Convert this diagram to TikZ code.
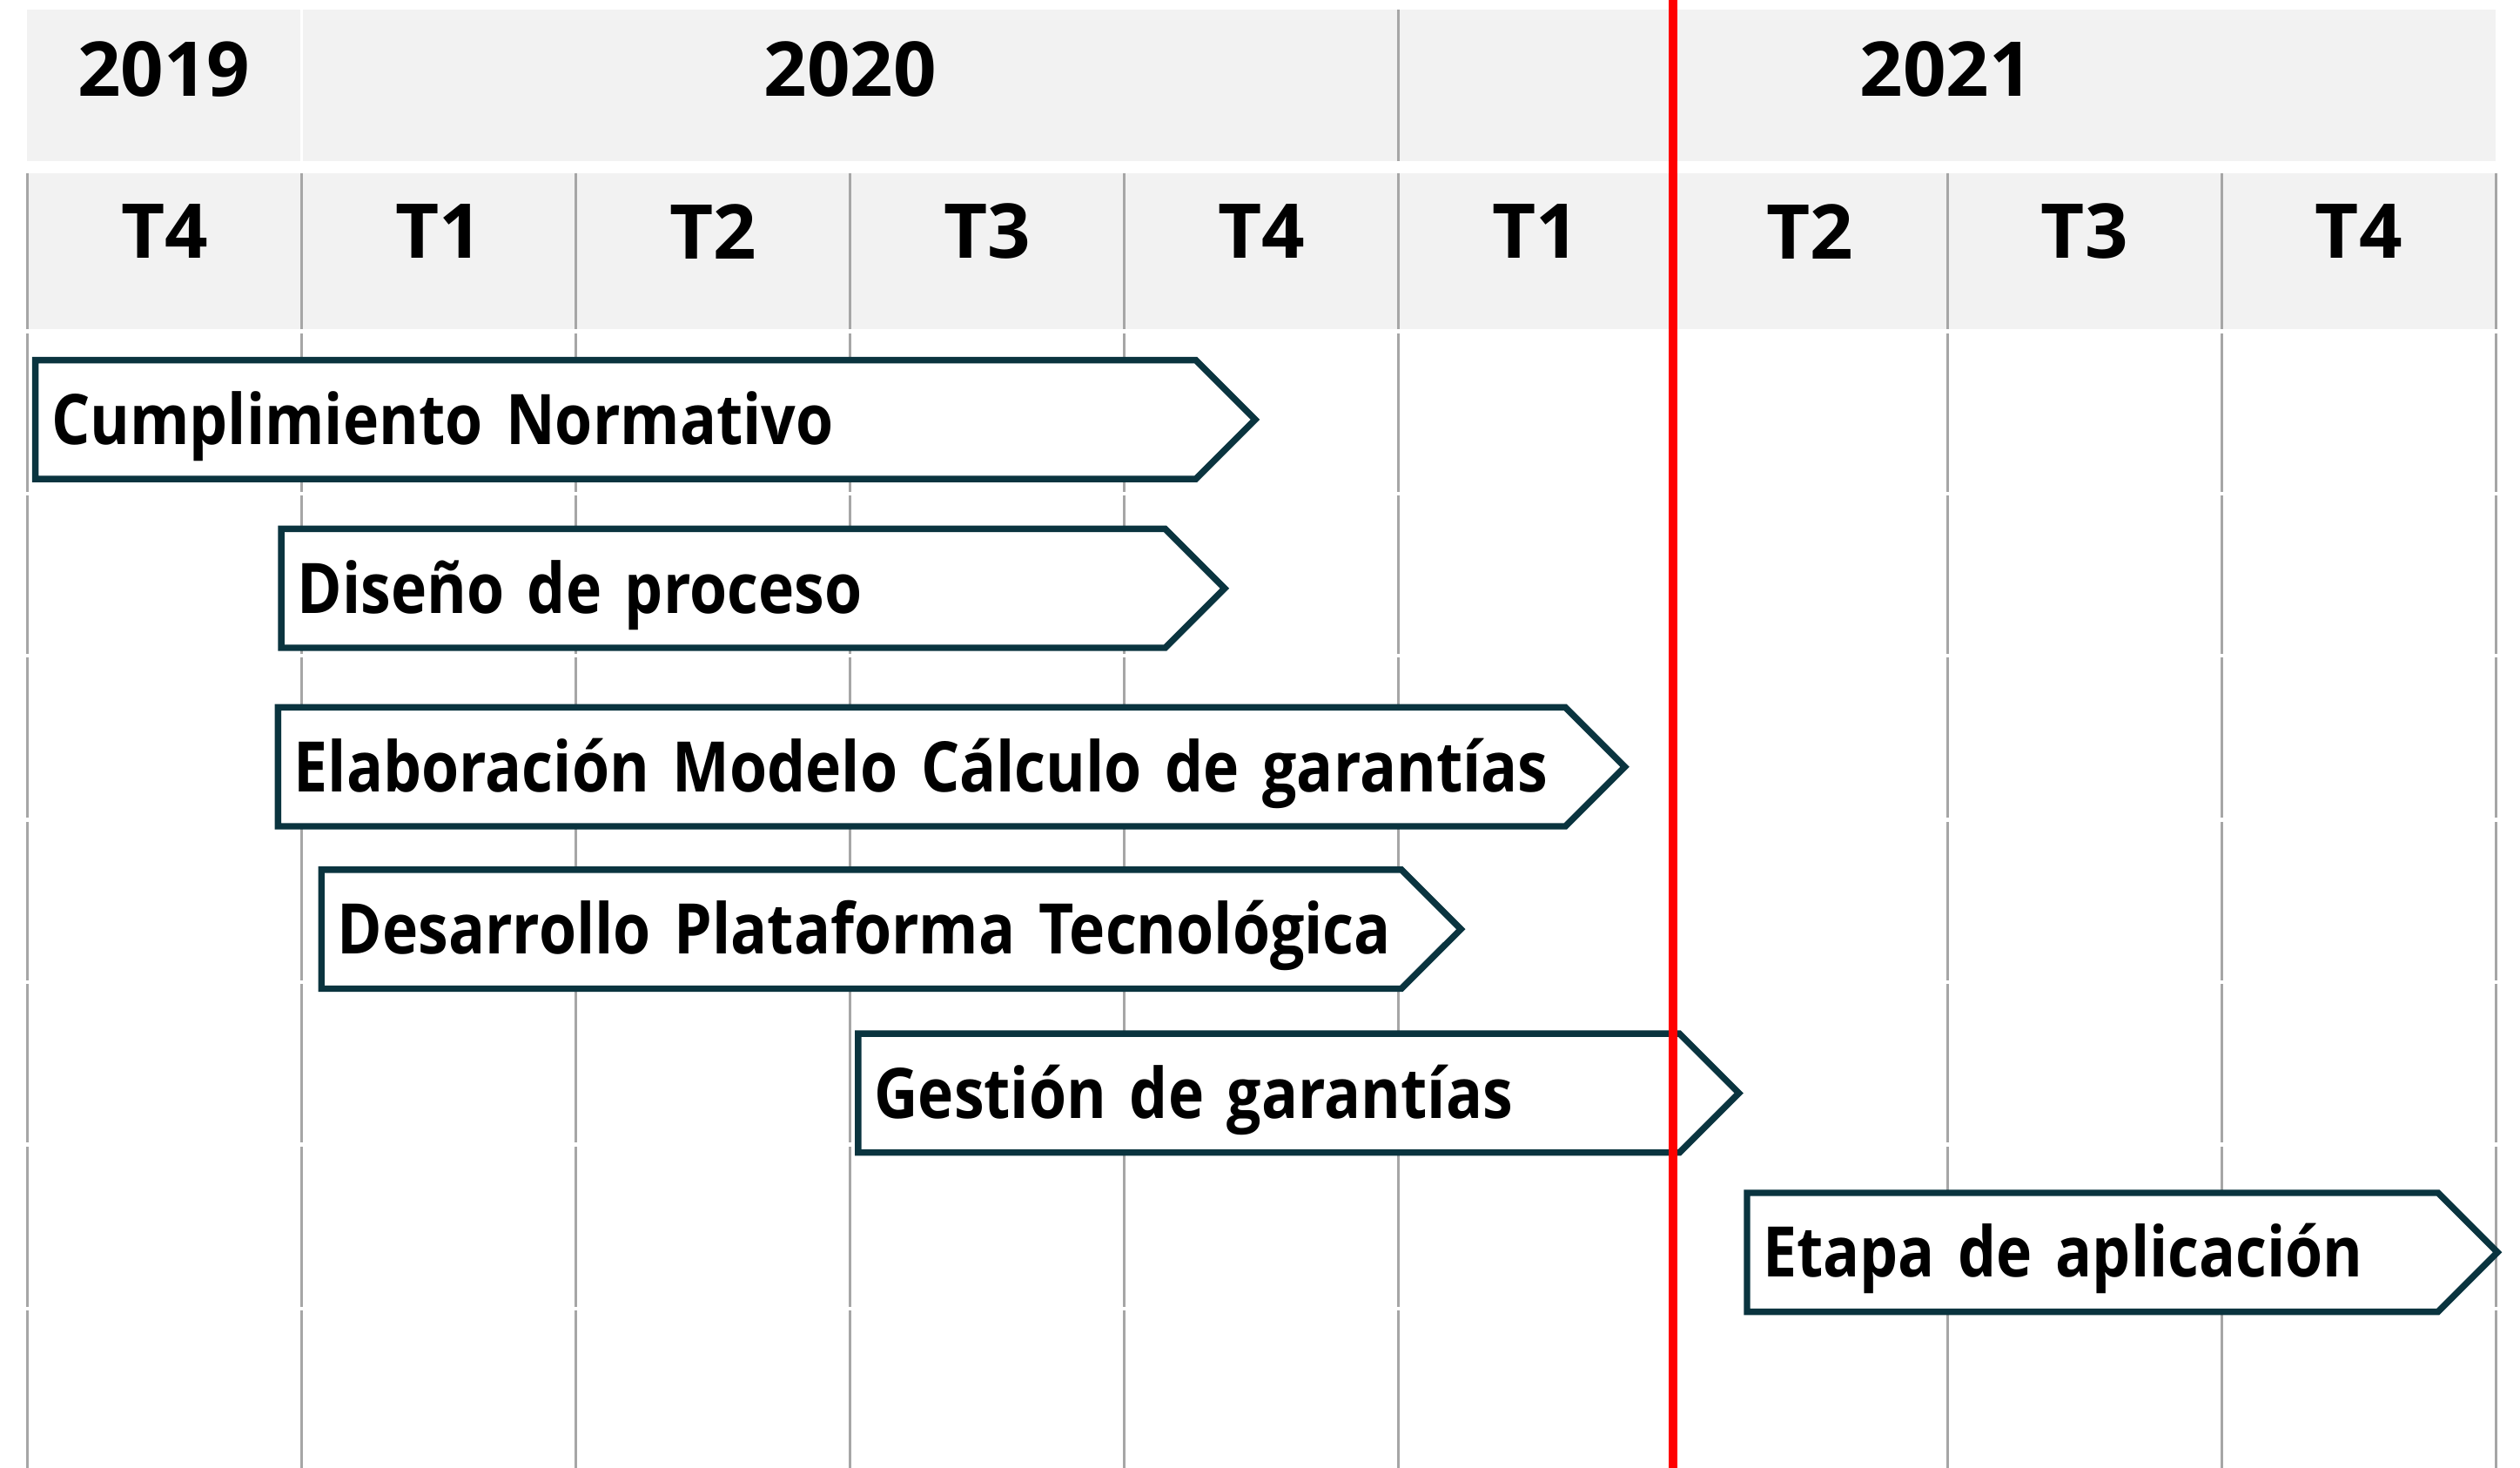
\documentclass[tikz,border=0pt]{standalone}
\usepackage{fontspec}
\setmainfont{Open Sans}
\newfontfamily\barfont{Open Sans}[FakeStretch=0.87]
\newcommand\bartextstyle{\barfont\fontsize{21.7}{26}\selectfont\bfseries}
\usetikzlibrary{shapes.symbols}

\definecolor{headgray}{HTML}{F2F2F2}
\definecolor{gridgray}{HTML}{A6A6A6}
\definecolor{bardark}{HTML}{0A343F}
\definecolor{todayred}{HTML}{FF0000}

\begin{document}
\begin{tikzpicture}[x=0.5pt, y=-0.5pt,
    headtext/.style={font=\fontsize{23.5}{27}\selectfont\bfseries},
    gridline/.style={draw=gridgray, line width=0.8pt},
    rowgap/.style={draw=white, line width=1.2pt},
    bar/.style={signal, signal to=east, signal pointer angle=90, draw=bardark,
      line width=2pt, fill=white, minimum height=37pt, inner xsep=5pt,
      align=left, anchor=west, text height=15.5pt, text depth=0pt,
      font=\bartextstyle}]

  \useasboundingbox (0,0) rectangle (1568,913);

  % Header bands
  \fill[headgray] (17,6) rectangle (1553,100);
  \fill[headgray] (17,108) rectangle (1553,205);

  % Grid lines
  \foreach \i in {0,...,9}
    \draw[gridline] ({17+170.67*\i},108) -- ({17+170.67*\i},913);
  \draw[gridline] (870,6) -- (870,100);
  \draw[white, line width=0.6pt] (187.7,6) -- (187.7,100);
  \foreach \y in {206,307,408,510,611,712,814}
    \draw[rowgap] (10,\y) -- (1560,\y);

  % Years
  \node[headtext] (y2019) at (102,43) {2019};
  \node[headtext] (y2020) at (529,43) {2020};
  \node[headtext] (y2021) at (1211,43) {2021};

  % Quarters
  \foreach \q [count=\i from 0] in {T4,T1,T2,T3,T4,T1,T2,T3,T4}
    \node[headtext] (q\i) at ({17+170.67*(\i+0.5)},144) {\q};

  % Tasks
  \node[bar, text width=351pt] (normativo) at (20,261) {\mbox{Cumplimiento Normativo}};
  \node[bar, text width=265pt] (diseno) at (173,366) {\mbox{Diseño de proceso}};
  \node[bar, text width=390.5pt] (modelo) at (171,477) {\mbox{Elaboración Modelo Cálculo de garantías}};
  \node[bar, text width=326pt] (plataforma) at (198,578) {\mbox{Desarrollo Plataforma Tecnológica}};
  \node[bar, text width=245.5pt] (gestion) at (532,680) {\mbox{Gestión de garantías}};
  \node[bar, text width=205pt] (aplicacion) at (1085,779) {\mbox{Etapa de aplicación}};

  % Today line
  \draw[todayred, line width=2.5pt] (1041,0) -- (1041,913);
\end{tikzpicture}
\end{document}
